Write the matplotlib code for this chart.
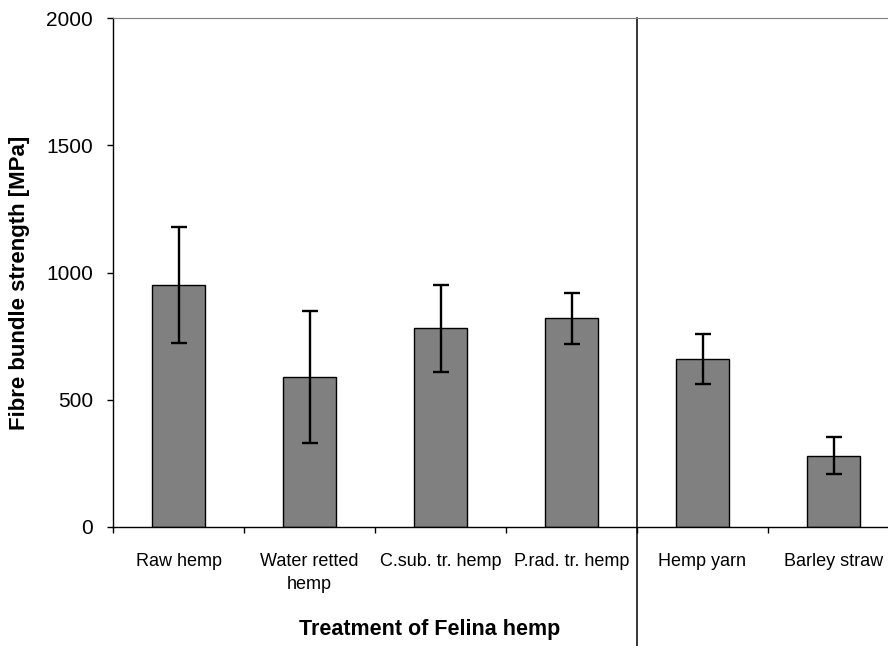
import matplotlib.pyplot as plt
import matplotlib.transforms as mtransforms
import numpy as np

# fibre bundle strength [MPa]
categories = ["Raw hemp", "Water retted\nhemp", "C.sub. tr. hemp", "P.rad. tr. hemp",
              "Hemp yarn", "Barley straw"]
strength = [950, 590, 780, 820, 660, 280]
err = [227, 260, 172, 100, 100, 72]
yticks = [0, 500, 1000, 1500, 2000]

fam = ["Liberation Sans", "DejaVu Sans"]

fig = plt.figure(figsize=(8.88, 6.46), dpi=100)
# axes runs a bit past the right edge of the picture, like in the original
ax = fig.add_axes([113/888, 119/646, 786/888, 509/646])

x = np.arange(len(categories)) + 0.5
ax.bar(x, strength, width=0.4, color="#808080", edgecolor="black", linewidth=1.0, zorder=2)
ax.errorbar(x, strength, yerr=err, fmt="none", ecolor="black", elinewidth=1.7,
            capsize=5.5, capthick=1.7, zorder=3)

ax.set_xlim(0, len(categories))
ax.set_ylim(0, 2000)
ax.set_yticks(yticks)
ax.set_yticklabels([str(v) for v in yticks], fontsize=15, family=fam)
ax.tick_params(axis="y", direction="out", length=4.5, width=1, pad=10)

# ticks between categories, labels in the middle
ax.set_xticks(np.arange(len(categories) + 1))
ax.set_xticklabels([])
ax.tick_params(axis="x", which="major", direction="out", length=4.5, width=1)
ax.set_xticks(x, minor=True)
labels = ax.set_xticklabels(categories, minor=True, fontsize=13, family=fam)
for lab in labels:
    lab.set_linespacing(1.45)
ax.tick_params(axis="x", which="minor", length=0, pad=19)

ax.spines["top"].set_color("#808080")
ax.spines["right"].set_visible(False)
ax.spines["left"].set_linewidth(1)
ax.spines["bottom"].set_linewidth(1)

# separator line between Felina treatments and the other two
trans = mtransforms.blended_transform_factory(ax.transData, fig.transFigure)
ax.plot([4, 4], [0, (646 - 18) / 646], color="black", linewidth=1.1, transform=trans, clip_on=False)

fig.text(430/888, 1 - 630/646, "Treatment of Felina hemp", ha="center", va="center",
         fontsize=15.5, fontweight="bold", family=fam)
fig.text(20/888, 1 - 283/646, "Fibre bundle strength [MPa]", ha="center", va="center",
         rotation=90, fontsize=16, fontweight="bold", family=fam)

fig.savefig("out.png", dpi=100)
